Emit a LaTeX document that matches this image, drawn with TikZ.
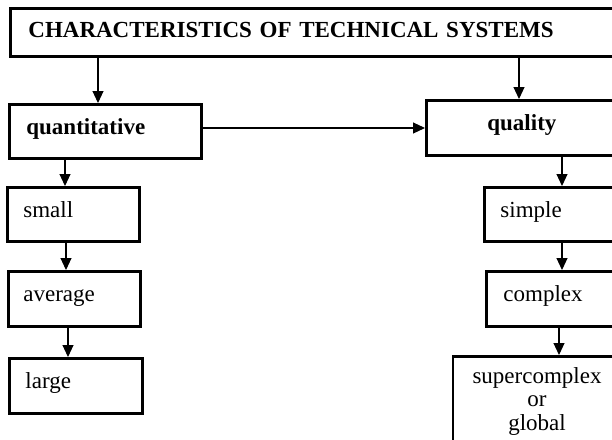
\documentclass[tikz,border=0pt]{standalone}
\usepackage{fontspec}
\setmainfont{Liberation Serif}
\usetikzlibrary{arrows.meta}
\tikzset{
  box/.style={draw, line width=2.8pt, anchor=north west, inner ysep=0pt, font=\fontsize{23}{23.5}\selectfont, align=left, text height=17pt, text depth=11pt},
  bbox/.style={box, font=\fontsize{23}{23.5}\selectfont\bfseries},
  arr/.style={line width=1.1pt, -{Triangle[length=12pt,width=11pt]}}
}
\begin{document}
\begin{tikzpicture}[x=1pt,y=-1pt]
\clip (0,0) rectangle (612,439);
\fill[white] (0,0) rectangle (612,439);
% boxes
\node[bbox, minimum width=640pt, minimum height=48pt, inner xsep=18pt, text width=604pt, text height=17pt, text depth=7pt] (top) at (9,7) {CHARACTERISTICS OF TECHNICAL SYSTEMS};
\node[bbox, minimum width=192pt, minimum height=54pt, inner xsep=17pt, text width=158pt] (quant) at (8,103) {quantitative};
\node[bbox, minimum width=215pt, minimum height=55pt, inner xsep=61pt, text width=93pt] (qual) at (425,99) {quality};
\node[box, minimum width=132pt, minimum height=54pt, inner xsep=16pt, text width=100pt] (small) at (6,186) {small};
\node[box, minimum width=132pt, minimum height=55pt, inner xsep=15pt, text width=102pt] (avg) at (7,270) {average};
\node[box, minimum width=133pt, minimum height=55pt, inner xsep=16pt, text width=101pt] (large) at (8,357) {large};
\node[box, minimum width=160pt, minimum height=54pt, inner xsep=16pt, text width=128pt] (simple) at (483,186) {simple};
\node[box, minimum width=160pt, minimum height=55pt, inner xsep=17pt, text width=126pt] (complex) at (485,270) {complex};
\node[box, text height=, text depth=, inner ysep=10.5pt, minimum width=168pt, inner xsep=0pt, text width=168pt, align=center, anchor=north] (super) at (537,355) {\strut supercomplex\\or\\global\strut};
% x-positions of connectors
\coordinate (xa) at (98,0);
\coordinate (xb) at (519,0);
\coordinate (xc) at (65,0);
\coordinate (xd) at (66,0);
\coordinate (xe) at (68,0);
\coordinate (xf) at (562,0);
\coordinate (xg) at (559,0);
\coordinate (yh) at (0,128);
% connectors
\draw[arr] (top.south -| xa) -- (quant.north -| xa);
\draw[arr] (top.south -| xb) -- (qual.north -| xb);
\draw[arr] (quant.east |- yh) -- (qual.west |- yh);
\draw[arr] (quant.south -| xc) -- (small.north -| xc);
\draw[arr] (small.south -| xd) -- (avg.north -| xd);
\draw[arr] (avg.south -| xe) -- (large.north -| xe);
\draw[arr] (qual.south -| xf) -- (simple.north -| xf);
\draw[arr] (simple.south -| xf) -- (complex.north -| xf);
\draw[arr] (complex.south -| xg) -- (super.north -| xg);
\end{tikzpicture}
\end{document}
